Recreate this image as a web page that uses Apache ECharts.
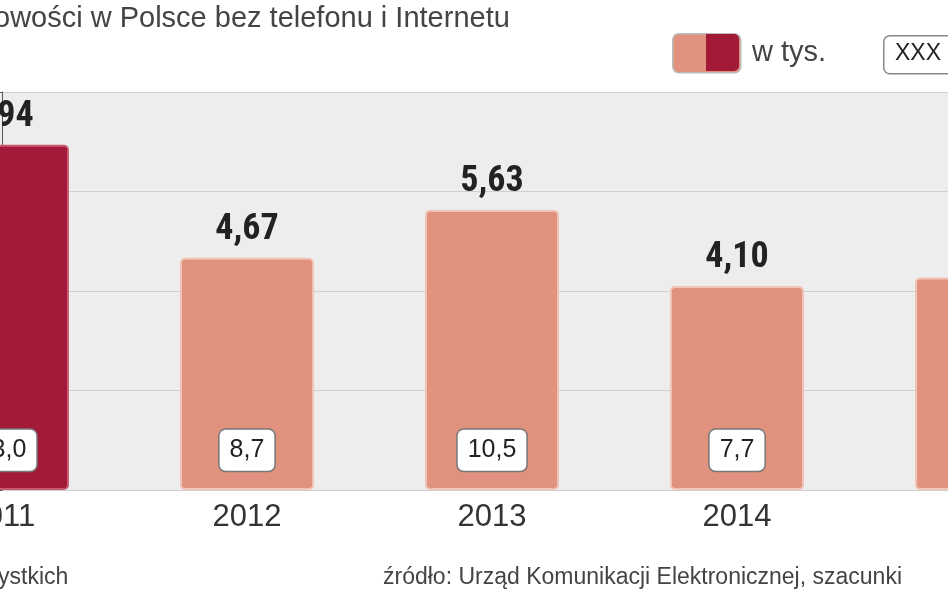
<!DOCTYPE html>
<html><head><meta charset="utf-8">
<script src="https://cdn.jsdelivr.net/npm/echarts@6/dist/echarts.min.js"></script>
<style>html,body{margin:0;padding:0;background:#fff}#c{width:948px;height:593px}</style>
</head><body><div id="c"></div>
<script>
const years = ['2011','2012','2013','2014','2015'];
const valuesTys = [6.94, 4.67, 5.63, 4.10, 4.27];
const valueLabels = ['6,94','4,67','5,63','4,10','4,27'];
const percentLabels = ['13,0','8,7','10,5','7,7','7,1'];
const F = '"Liberation Sans",Arial,sans-serif';
const DARK = '#a31a38', LIGHT = '#e1927e';
const chart = echarts.init(document.getElementById('c'));
chart.setOption({
  animation:false,
  grid:{left:0,right:0,top:92,bottom:103},
  xAxis:{type:'value',min:-0.008,max:3.861,axisLine:{show:false},axisTick:{show:false},
    axisLabel:{show:false},splitLine:{show:false}},
  yAxis:{type:'value',min:0,max:8,interval:2,axisLabel:{show:false},
    splitLine:{lineStyle:{color:'#cfcfcf',width:1}},
    splitArea:{show:true,areaStyle:{color:['#ededed','#ededed']}}},
  series:[
    {type:'bar',barWidth:134,
     data:valuesTys.map((v,i)=>({value:[i,v],itemStyle:{color:i===0?DARK:LIGHT,borderColor:i===0?'#c95a6e':'#f1c3b5'}})),
     itemStyle:{borderWidth:2,borderRadius:4},
     label:{show:true,position:'top',distance:10,formatter:p=>valueLabels[p.dataIndex],
       fontSize:36,fontWeight:'bold',color:'#222',fontFamily:'"Liberation Sans Narrow","Roboto Condensed",sans-serif',
       textBorderColor:'transparent'}},
    {type:'scatter',symbolSize:0,data:years.map((y,i)=>[i,0.8]),z:5,itemStyle:{opacity:1},
     label:{show:true,position:'inside',formatter:p=>percentLabels[p.dataIndex],
       fontSize:25,color:'#222',fontFamily:F,backgroundColor:'#ffffff',borderColor:'#777',
       borderWidth:1.5,borderRadius:6,padding:[8,10]}},
    {type:'scatter',symbolSize:0,data:years.map((y,i)=>[i,0]),z:5,itemStyle:{opacity:1},clip:false,
     label:{show:true,position:'bottom',distance:12,formatter:p=>years[p.dataIndex],
       fontSize:31,color:'#333',fontFamily:F}}
  ],
  graphic:[
    {type:'text',left:-6,top:4,style:{text:'owości w Polsce bez telefonu i Internetu',fontSize:29,fill:'#444',fontFamily:F}},
    {type:'rect',left:672,top:33,shape:{width:68,height:39,r:6},style:{fill:LIGHT,stroke:'#bbb',lineWidth:1.5}},
    {type:'rect',left:706,top:34,shape:{width:33,height:37,r:[0,5,5,0]},style:{fill:DARK}},
    {type:'text',left:752,top:38,style:{text:'w tys.',fontSize:29,fill:'#444',fontFamily:F}},
    {type:'rect',left:883,top:35,shape:{width:80,height:38,r:6},style:{fill:'#fff',stroke:'#888',lineWidth:1.5}},
    {type:'text',left:895,top:42,style:{text:'XXX',fontSize:23,fill:'#222',fontFamily:'"Liberation Sans Narrow",sans-serif'}},
    {type:'text',left:-2,top:566,style:{text:'ystkich',fontSize:23,fill:'#444',fontFamily:F}},
    {type:'text',left:383,top:566,style:{text:'źródło: Urząd Komunikacji Elektronicznej, szacunki',fontSize:23,fill:'#444',fontFamily:F}}
  ]
});
</script></body></html>
